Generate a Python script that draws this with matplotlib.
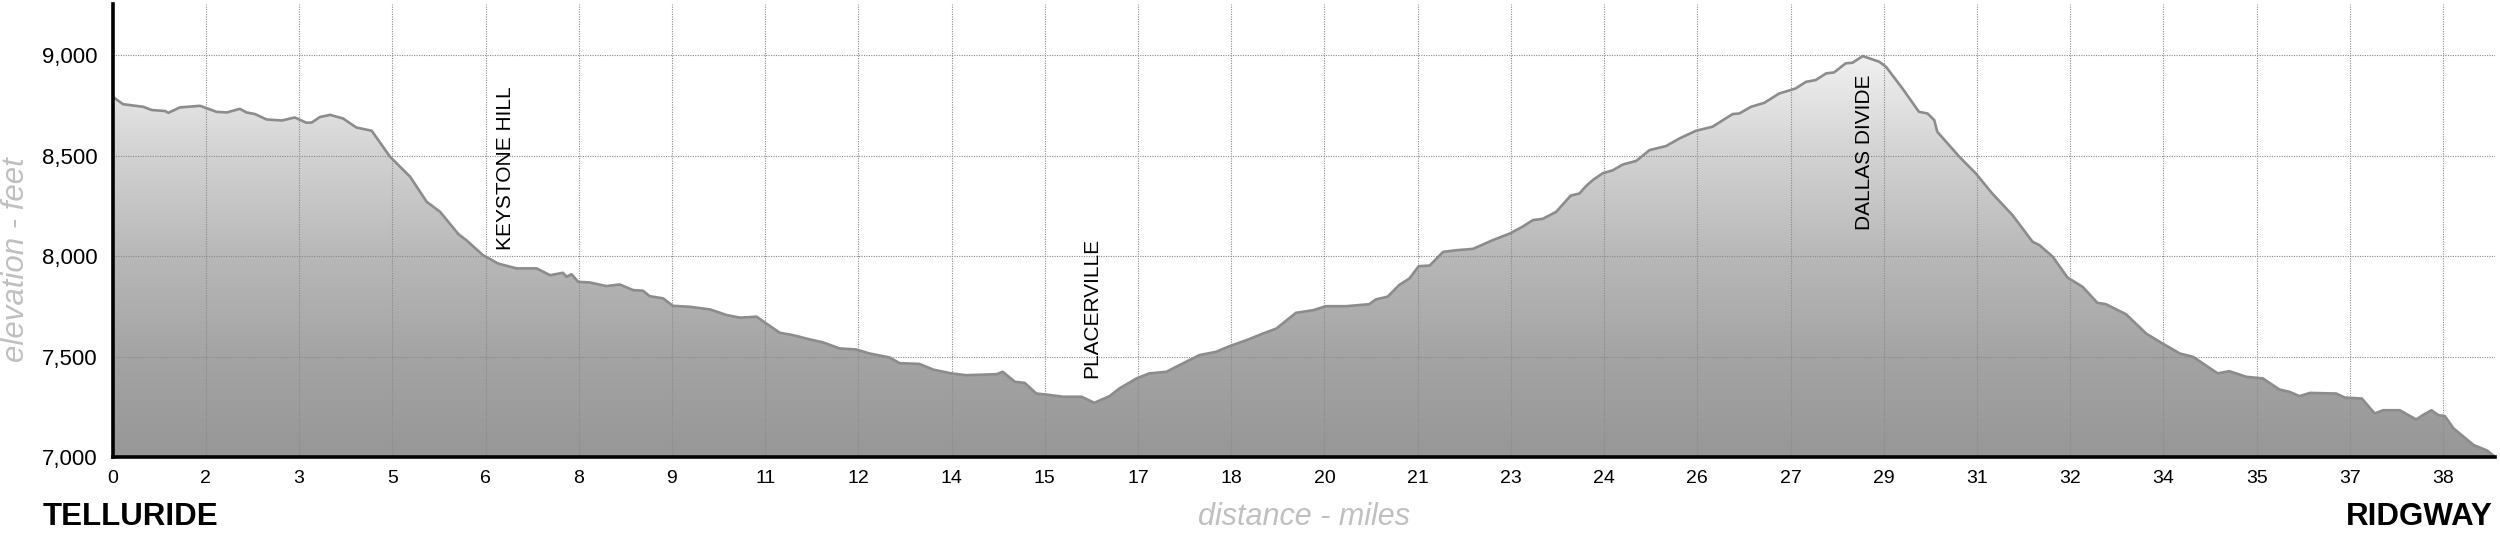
import numpy as np
import matplotlib
matplotlib.use("Agg")
import matplotlib.pyplot as plt
from matplotlib.colors import LinearSegmentedColormap
from matplotlib.patches import Polygon

#data
distance = [
    0.00, 0.17, 0.50, 0.64, 0.86, 0.91, 1.10, 1.43, 1.70, 1.87, 2.08, 2.19, 2.33, 2.52, 2.77,
    2.98, 3.17, 3.26, 3.39, 3.56, 3.77, 3.99, 4.24, 4.54, 4.87, 5.14, 5.36, 5.66, 5.79, 6.06,
    6.31, 6.61, 6.94, 7.16, 7.37, 7.43, 7.51, 7.62, 7.81, 8.08, 8.30, 8.52, 8.68, 8.79, 9.01,
    9.17, 9.45, 9.78, 10.05, 10.27, 10.54, 10.70, 10.92, 11.14, 11.41, 11.63, 11.90, 12.17, 12.39, 12.72,
    12.88, 13.21, 13.43, 13.73, 13.97, 14.47, 14.57, 14.77, 14.93, 15.12, 15.28, 15.56, 15.86, 16.07, 16.32,
    16.48, 16.76, 16.97, 17.25, 17.41, 17.68, 17.79, 18.06, 18.28, 18.56, 18.83, 19.05, 19.37, 19.65, 19.86,
    20.19, 20.57, 20.68, 20.87, 21.06, 21.23, 21.38, 21.56, 21.78, 21.99, 22.27, 22.59, 22.87, 23.08, 23.25,
    23.41, 23.63, 23.87, 24.01, 24.12, 24.23, 24.39, 24.56, 24.72, 24.94, 25.16, 25.43, 25.65, 25.92, 26.19,
    26.52, 26.63, 26.82, 27.04, 27.28, 27.55, 27.72, 27.88, 28.05, 28.18, 28.37, 28.48, 28.65, 28.92, 29.03,
    29.30, 29.57, 29.71, 29.82, 29.87, 30.23, 30.50, 30.77, 31.10, 31.43, 31.54, 31.76, 32.00, 32.25, 32.49,
    32.63, 32.96, 33.29, 33.51, 33.84, 34.06, 34.46, 34.65, 34.93, 35.20, 35.47, 35.64, 35.80, 35.97, 36.40,
    36.54, 36.82, 37.03, 37.17, 37.44, 37.71, 37.82, 37.96, 38.07, 38.18, 38.32, 38.65, 38.87, 39.00,
]
elevation = [
    8793, 8756, 8743, 8727, 8722, 8713, 8740, 8748, 8718, 8715, 8733, 8715, 8707, 8680, 8675,
    8690, 8664, 8665, 8692, 8703, 8685, 8640, 8624, 8495, 8395, 8271, 8221, 8110, 8080, 8006,
    7964, 7940, 7940, 7906, 7918, 7898, 7911, 7873, 7870, 7852, 7860, 7832, 7829, 7802, 7791,
    7754, 7749, 7736, 7708, 7695, 7700, 7666, 7620, 7608, 7587, 7572, 7542, 7537, 7517, 7497,
    7469, 7465, 7437, 7418, 7409, 7414, 7426, 7376, 7371, 7318, 7313, 7302, 7302, 7272, 7305,
    7343, 7393, 7418, 7426, 7451, 7492, 7509, 7525, 7553, 7583, 7616, 7641, 7719, 7732, 7752,
    7752, 7762, 7786, 7799, 7857, 7890, 7951, 7954, 8022, 8030, 8037, 8080, 8113, 8147, 8180,
    8186, 8221, 8302, 8312, 8349, 8379, 8412, 8428, 8456, 8474, 8528, 8548, 8586, 8624, 8644,
    8707, 8710, 8743, 8763, 8809, 8834, 8867, 8876, 8909, 8914, 8959, 8962, 8995, 8967, 8942,
    8834, 8718, 8710, 8677, 8619, 8495, 8412, 8312, 8205, 8072, 8056, 7998, 7895, 7848, 7769,
    7762, 7712, 7616, 7575, 7517, 7500, 7418, 7429, 7401, 7393, 7338, 7326, 7305, 7321, 7318,
    7298, 7293, 7219, 7235, 7235, 7189, 7211, 7235, 7211, 7206, 7145, 7062, 7035, 7003,
]

x_tick_step = 1.526
x_tick_labels = ["0", "2", "3", "5", "6", "8", "9", "11", "12", "14", "15", "17", "18",
                 "20", "21", "23", "24", "26", "27", "29", "31", "32", "34", "35", "37", "38"]
y_ticks = [7000, 7500, 8000, 8500, 9000]
y_tick_labels = ["7,000", "7,500", "8,000", "8,500", "9,000"]

places = ["KEYSTONE HILL", "PLACERVILLE", "DALLAS DIVIDE"]
place_miles = [6.43, 16.03, 28.68]
place_label_base = [8031, 7394, 8131]

#visuals
FONT = "Liberation Sans"
LINE_COLOR = "#8c8c8c"
GRID_COLOR = "#8a8a8a"
LABEL_GRAY = "#c0c0c0"
fill_cmap = LinearSegmentedColormap.from_list(
    "profile", ["#979797", "#a4a4a4", "#b8b8b8", "#d2d2d2", "#f1f1f1"])

plt.rcParams["font.family"] = [FONT, "DejaVu Sans"]

fig = plt.figure(figsize=(25, 5.35), dpi=100)
ax = fig.add_axes([0.04508, 0.14486, 0.95292, 0.84766])

x_max = distance[-1]
y_min, y_max = 7000, 9254

#gradient fill clipped to the profile
outline = Polygon([(distance[0], y_min)] + list(zip(distance, elevation)) + [(distance[-1], y_min)],
                  closed=True, facecolor="none", edgecolor="none")
ax.add_patch(outline)
gradient = np.linspace(0, 1, 256).reshape(-1, 1)
img = ax.imshow(gradient, extent=[0, x_max, 7000, 9000], origin="lower",
                aspect="auto", cmap=fill_cmap, zorder=1)
img.set_clip_path(outline)

ax.plot(distance, elevation, color=LINE_COLOR, linewidth=1.9, zorder=3,
        solid_joinstyle="round")

ax.set_xlim(0, x_max)
ax.set_ylim(y_min, y_max)

ax.set_xticks([i * x_tick_step for i in range(len(x_tick_labels))])
ax.set_xticklabels(x_tick_labels, fontsize=14)
ax.set_yticks(y_ticks)
ax.set_yticklabels(y_tick_labels, fontsize=16)
ax.tick_params(axis="x", length=0, pad=9)
ax.tick_params(axis="y", length=0, pad=11)

ax.grid(True, linestyle=(0, (1, 1.2)), color=GRID_COLOR, linewidth=0.8, zorder=2)
ax.set_axisbelow(False)

for side in ["top", "right"]:
    ax.spines[side].set_visible(False)
for side in ["left", "bottom"]:
    ax.spines[side].set_linewidth(2.6)
    ax.spines[side].set_color("black")
    ax.spines[side].set_zorder(4)

#place names
for name, mi, base in zip(places, place_miles, place_label_base):
    ax.text(mi, base, name, rotation=90, ha="center", va="bottom",
            fontsize=15, color="black", zorder=5)

#axis titles and end points
ax_mid_x = 0.04508 + 0.95292 / 2
fig.text(0.0064, 0.515, "elevation - feet", rotation=90, ha="center", va="center",
         fontsize=22.5, style="italic", color=LABEL_GRAY)
fig.text(ax_mid_x, 0.006, "distance - miles", ha="center", va="bottom",
         fontsize=22, style="italic", color=LABEL_GRAY)
fig.text(0.017, 0.006, "TELLURIDE", ha="left", va="bottom",
         fontsize=22.5, fontweight="bold", color="black")
fig.text(0.997, 0.006, "RIDGWAY", ha="right", va="bottom",
         fontsize=22.5, fontweight="bold", color="black")

fig.savefig("out.png", dpi=100, facecolor="white")
